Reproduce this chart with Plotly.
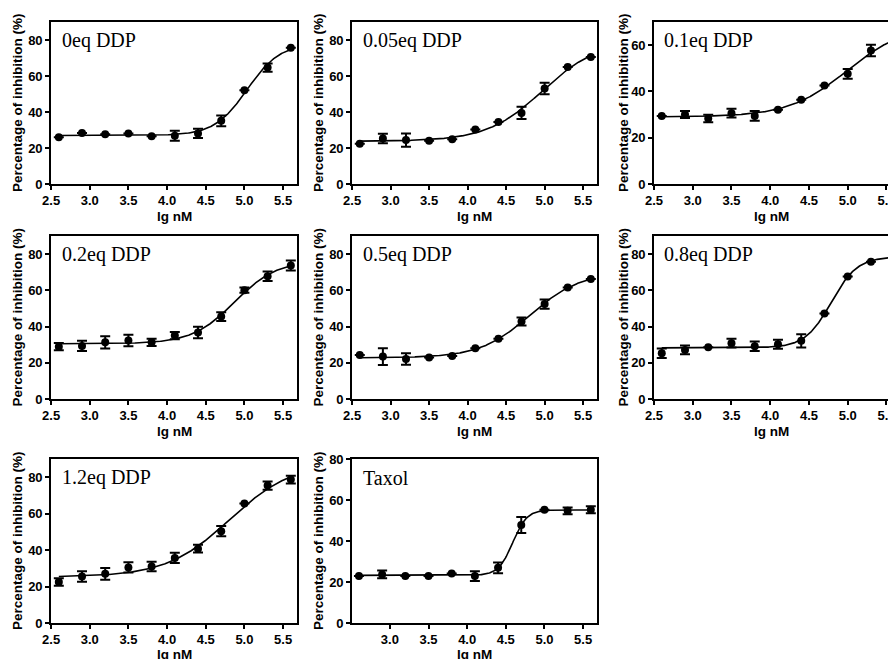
import numpy as np
import plotly.graph_objects as go

# Log concentration (lg nM) shared by every dose-response panel
lg_nM = [2.6, 2.9, 3.2, 3.5, 3.8, 4.1, 4.4, 4.7, 5.0, 5.3, 5.6]

panel_names = ["0eq DDP", "0.05eq DDP", "0.1eq DDP", "0.2eq DDP",
               "0.5eq DDP", "0.8eq DDP", "1.2eq DDP", "Taxol"]

# Mean inhibition (%) and error (SEM) per panel
inh_0 = [26.0, 28.3, 27.7, 28.1, 26.5, 26.8, 28.1, 35.1, 52.1, 64.7, 75.7]
err_0 = [0, 0, 0, 0, 0, 2.8, 2.6, 3.0, 0, 2.3, 0]
inh_005 = [22.4, 25.3, 24.4, 24.0, 24.9, 30.3, 34.4, 39.5, 53.0, 65.0, 70.6]
err_005 = [0, 2.6, 3.7, 0, 0, 0, 0, 3.4, 3.2, 0, 0]
inh_01 = [29.4, 30.0, 28.3, 30.6, 29.4, 32.1, 36.4, 42.6, 47.6, 57.7, 62.0]
err_01 = [0, 1.5, 1.6, 1.9, 2.1, 0, 0, 0, 2.1, 2.5, 0]
inh_02 = [28.9, 29.3, 31.3, 32.3, 31.3, 35.0, 36.7, 45.5, 60.1, 67.8, 73.7]
err_02 = [2.0, 2.8, 3.4, 3.2, 2.0, 2.0, 3.2, 2.4, 1.5, 2.6, 2.8]
inh_05 = [24.3, 23.4, 22.1, 22.9, 23.8, 28.0, 33.2, 42.8, 52.4, 61.6, 66.2]
err_05 = [0, 4.6, 3.2, 0, 0, 0, 0, 2.2, 2.5, 0, 0]
inh_08 = [25.3, 27.1, 28.6, 30.8, 29.1, 30.2, 32.1, 47.2, 67.6, 75.8, 78.5]
err_08 = [2.6, 2.4, 0, 2.4, 2.6, 2.5, 3.7, 0, 0, 0, 0]
inh_12 = [22.5, 25.5, 27.0, 30.5, 31.0, 35.7, 40.8, 50.4, 65.6, 75.4, 78.7]
err_12 = [2.1, 2.9, 3.2, 2.8, 2.6, 2.8, 2.1, 2.8, 0, 2.3, 2.1]
inh_tax = [22.9, 23.7, 22.9, 22.9, 24.2, 22.9, 26.9, 47.8, 55.2, 54.7, 55.2]
err_tax = [0, 1.9, 0, 0, 0, 2.4, 2.6, 3.9, 0, 1.6, 1.7]

means = [inh_0, inh_005, inh_01, inh_02, inh_05, inh_08, inh_12, inh_tax]
errors = [err_0, err_005, err_01, err_02, err_05, err_08, err_12, err_tax]

# Axis ticks
x_ticks_full = [2.5, 3.0, 3.5, 4.0, 4.5, 5.0, 5.5]
x_ticks_tax = [3.0, 3.5, 4.0, 4.5, 5.0, 5.5]
y_ticks_80 = [0, 20, 40, 60, 80]
y_ticks_60 = [0, 20, 40, 60]

W, H = 888, 659
# Panel boxes in pixels: (left, right, top, bottom)
col_lr = [(51, 297), (352, 597), (654, 888)]
row_tb = [(22, 184), (236, 399), (459, 623)]
ytitle_x = [17, 318, 623]
xtitle_y = [216, 431, 654]


def four_pl(p, x):
    b, t, c, h = p
    z = np.clip((c - x) * h, -50, 50)
    return b + (t - b) / (1 + 10 ** z)


def fit_four_pl(x, y, iters=400):
    """Levenberg-Marquardt fit of a 4-parameter logistic (variable slope)."""
    x = np.asarray(x, float)
    y = np.asarray(y, float)
    mid = (y.min() + y.max()) / 2
    p = np.array([y.min(), y.max(), x[np.argmin(abs(y - mid))], 1.5])
    lam = 1e-2
    sse = np.sum((y - four_pl(p, x)) ** 2)
    for _ in range(iters):
        r = y - four_pl(p, x)
        J = np.empty((len(x), 4))
        for k in range(4):
            d = np.zeros(4)
            d[k] = 1e-6 * max(1.0, abs(p[k]))
            J[:, k] = (four_pl(p + d, x) - four_pl(p - d, x)) / (2 * d[k])
        A = J.T @ J
        g = J.T @ r
        try:
            step = np.linalg.solve(A + lam * np.diag(np.diag(A) + 1e-9), g)
        except np.linalg.LinAlgError:
            break
        pn = p + step
        pn[3] = np.clip(pn[3], 0.2, 10)
        sn = np.sum((y - four_pl(pn, x)) ** 2)
        if sn < sse:
            p, sse = pn, sn
            lam = max(lam * 0.3, 1e-12)
        else:
            lam *= 10
            if lam > 1e12:
                break
    return p


fig = go.Figure()
layout = {}
annotations = []
tick_font = dict(family="Liberation Sans Narrow, Arial Narrow, Liberation Sans, sans-serif",
                 size=13, color="black", weight="bold")
title_font = dict(family="Liberation Sans, Arial, sans-serif", size=13.5, color="black",
                  weight="bold")

for i, name in enumerate(panel_names):
    r, c = divmod(i, 3)
    left, right = col_lr[c]
    top, bottom = row_tb[r]
    n = i + 1
    xa = "x" if n == 1 else f"x{n}"
    ya = "y" if n == 1 else f"y{n}"
    xkey = "xaxis" if n == 1 else f"xaxis{n}"
    ykey = "yaxis" if n == 1 else f"yaxis{n}"

    y = means[i]
    params = fit_four_pl(lg_nM, y)
    xf = np.linspace(lg_nM[0], lg_nM[-1], 300)
    fig.add_trace(go.Scatter(x=xf, y=four_pl(params, xf), mode="lines",
                             line=dict(color="black", width=1.6),
                             xaxis=xa, yaxis=ya, hoverinfo="skip", showlegend=False))
    fig.add_trace(go.Scatter(x=lg_nM, y=y, mode="markers",
                             marker=dict(color="black", size=8),
                             error_y=dict(type="data", array=errors[i], color="black",
                                          thickness=2, width=5),
                             xaxis=xa, yaxis=ya, showlegend=False))

    is_tax = name == "Taxol"
    if c == 2:
        xr = [2.5, 5.52]
    elif is_tax:
        xr = [2.51, 5.68]
    else:
        xr = [2.499, 5.68]
    ymax = 70 if name == "0.1eq DDP" else (80 if is_tax else 90)

    layout[xkey] = dict(domain=[left / W, right / W], anchor=ya, range=xr,
                        tickvals=x_ticks_tax if is_tax else x_ticks_full,
                        tickformat=".1f", ticks="outside", ticklen=4, tickwidth=1.6,
                        tickcolor="black", showline=True, linecolor="black", linewidth=1.6,
                        mirror=True, showgrid=False, zeroline=False, tickfont=tick_font,
                        ticklabeloverflow="allow", automargin=False, fixedrange=True)
    layout[ykey] = dict(domain=[1 - bottom / H, 1 - top / H], anchor=xa, range=[0, ymax],
                        tickvals=y_ticks_60 if ymax == 70 else y_ticks_80,
                        ticks="outside", ticklen=4, tickwidth=1.6, tickcolor="black",
                        showline=True, linecolor="black", linewidth=1.6,
                        mirror=(c != 2), showgrid=False, zeroline=False,
                        tickfont=tick_font, automargin=False, fixedrange=True)

    # panel label
    annotations.append(dict(text=name, xref=f"{xa} domain", yref=f"{ya} domain",
                            x=0.035, y=0.885, xanchor="left", yanchor="middle",
                            showarrow=False,
                            font=dict(family="Liberation Serif, Times New Roman, serif",
                                      size=20, color="black")))
    # axis titles
    annotations.append(dict(text="Percentage of inhibition (%)", xref="paper", yref="paper",
                            x=ytitle_x[c] / W, y=1 - (top + bottom) / 2 / H,
                            xanchor="center", yanchor="middle", textangle=-90,
                            showarrow=False, font=title_font))
    annotations.append(dict(text="lg nM", xref="paper", yref="paper",
                            x=(left + right) / 2 / W, y=1 - xtitle_y[r] / H,
                            xanchor="center", yanchor="middle",
                            showarrow=False, font=title_font))

fig.update_layout(width=W, height=H, margin=dict(l=0, r=0, t=0, b=0),
                  paper_bgcolor="white", plot_bgcolor="white",
                  annotations=annotations, **layout)

fig.write_html("out.html")
